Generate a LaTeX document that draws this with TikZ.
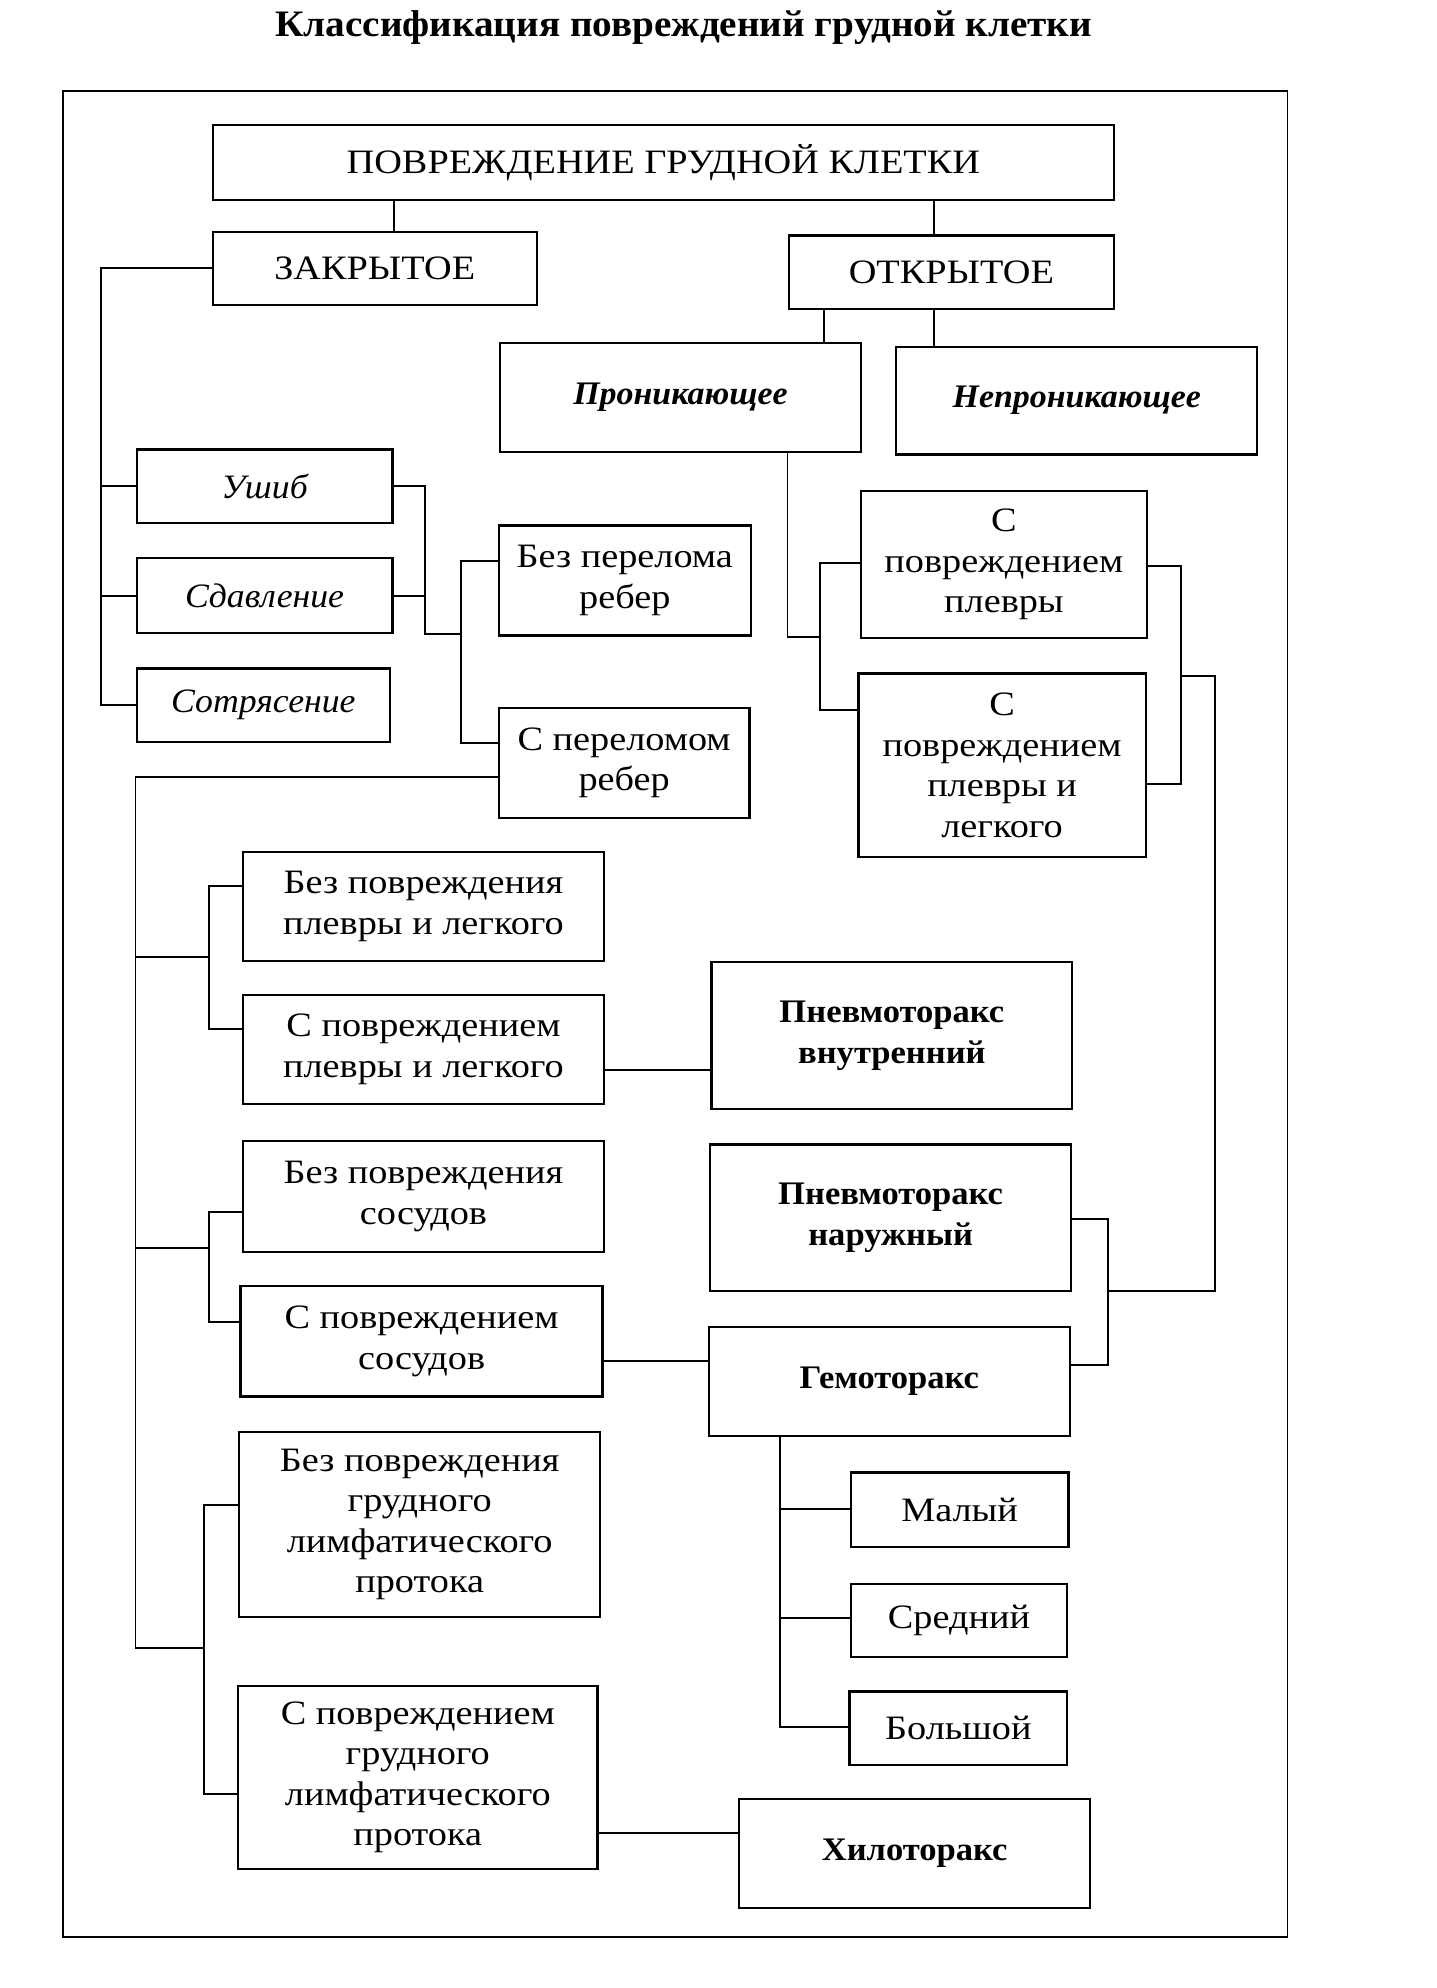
\documentclass[tikz,border=0pt]{standalone}
\usepackage{fontspec}
\setmainfont{Liberation Serif}
\newfontfamily\regf{Liberation Serif}[FakeStretch=1.12]
\newfontfamily\boldf{Liberation Serif}[FakeStretch=1.05]
\newfontfamily\itf{Liberation Serif}[FakeStretch=1.045]
\newfontfamily\bitf{Liberation Serif}[FakeStretch=1.03]
\begin{document}
\begin{tikzpicture}[x=1pt,y=-1pt,
  box/.style={draw, line width=1.8pt, align=center, inner sep=0pt,
    font=\fontsize{27}{32}\selectfont\regf},
  conn/.style={line width=1.5pt},
  bf/.style={font=\fontsize{26}{32}\selectfont\boldf\bfseries},
  itl/.style={font=\fontsize{27}{32}\selectfont\itf\itshape},
  bit/.style={font=\fontsize{26}{32}\selectfont\bitf\bfseries\itshape}]
\useasboundingbox (0,0) rectangle (1134.3,1570.3);
\node[font=\fontsize{29.5}{34}\selectfont\boldf\bfseries] (title) at (540,22) {Классификация повреждений грудной клетки};
\draw[line width=1.5pt] (50,72) rectangle (1017,1530);

\node[box, minimum width=712pt, minimum height=59pt] (top) at (524,128.5) {ПОВРЕЖДЕНИЕ ГРУДНОЙ КЛЕТКИ};
\node[box, minimum width=256pt, minimum height=58pt] (zakr) at (296,212) {ЗАКРЫТОЕ};
\node[box, minimum width=257pt, minimum height=58pt] (otkr) at (751.5,215) {ОТКРЫТОЕ};
\node[box, bit, minimum width=285pt, minimum height=86pt] (pron) at (537.5,314) {Проникающее};
\node[box, bit, minimum width=285pt, minimum height=85pt] (nepron) at (850.5,316.5) {Непроникающее};
\node[box, itl, minimum width=202pt, minimum height=58pt] (ushib) at (209,384) {Ушиб};
\node[box, itl, minimum width=202pt, minimum height=59pt] (sdav) at (209,470.5) {Сдавление};
\node[box, itl, minimum width=200pt, minimum height=58pt] (sotr) at (208,557) {Сотрясение};
\node[box, minimum width=199pt, minimum height=87pt] (bezper) at (493.5,458.5) {Без перелома\\ребер};
\node[box, minimum width=198pt, minimum height=87pt] (sper) at (493,602.5) {С переломом\\ребер};
\node[box, minimum width=226pt, minimum height=116pt] (splev) at (793,446) {С\\повреждением\\плевры};
\node[box, minimum width=227pt, minimum height=145pt] (splevleg) at (791.5,604.5) {С\\повреждением\\плевры и\\легкого};
\node[box, minimum width=285pt, minimum height=86pt] (bpl) at (334.5,716) {Без повреждения\\плевры и легкого};
\node[box, minimum width=285pt, minimum height=86pt] (spl) at (334.5,829) {С повреждением\\плевры и легкого};
\node[box, bf, minimum width=285pt, minimum height=116pt] (pnvn) at (704.5,818) {Пневмоторакс\\внутренний};
\node[box, minimum width=285pt, minimum height=88pt] (bsos) at (334.5,945) {Без повреждения\\сосудов};
\node[box, minimum width=286pt, minimum height=87pt] (ssos) at (333,1059.5) {С повреждением\\сосудов};
\node[box, bf, minimum width=285pt, minimum height=116pt] (pnnar) at (703.5,962) {Пневмоторакс\\наружный};
\node[box, bf, minimum width=285pt, minimum height=86pt] (gem) at (702.5,1091) {Гемоторакс};
\node[box, minimum width=172pt, minimum height=59pt] (malyi) at (758,1192.5) {Малый};
\node[box, minimum width=171pt, minimum height=58pt] (sred) at (757.5,1280) {Средний};
\node[box, minimum width=172pt, minimum height=58pt] (bol) at (757,1365) {Большой};
\node[box, minimum width=285pt, minimum height=146pt] (blimf) at (331.5,1204) {Без повреждения\\грудного\\лимфатического\\протока};
\node[box, minimum width=284pt, minimum height=144pt] (slimf) at (330,1404) {С повреждением\\грудного\\лимфатического\\протока};
\node[box, bf, minimum width=277pt, minimum height=86pt] (hilo) at (722.5,1464) {Хилоторакс};

\coordinate (jA) at (336,501);
\coordinate (jB) at (364,501);
\coordinate (jC) at (622,503);
\coordinate (jD) at (648,503);
\coordinate (jE) at (933,534);
\coordinate (jF) at (960,534);
\coordinate (jG) at (875,1020);
\coordinate (t1) at (107,756);
\coordinate (t2) at (107,986);
\coordinate (t3) at (107,1302);
\coordinate (b1) at (165,756);
\coordinate (b2) at (165,986);
\coordinate (b3) at (161,1302);
\coordinate (g1) at (616,1192);
\coordinate (g2) at (616,1278);

\begin{scope}[conn]
\draw (top.south -| 311,0) -- (zakr.north -| 311,0);
\draw (top.south -| 738,0) -- (otkr.north -| 738,0);
\draw (zakr.west) -| (sotr.west -| 80,0) -- (sotr.west);
\draw (ushib.west -| 80,0) -- (ushib.west);
\draw (sdav.west -| 80,0) -- (sdav.west);
\draw (ushib.east) -| (jA) -- (jB);
\draw (sdav.east) -- (sdav.east -| jA);
\draw (bezper.west |- 0,443) -| (364,587) -- (sper.west |- 0,587);
\draw (sper.west |- 0,614) -| (t3) -- (b3);
\draw (t1) -- (b1);
\draw (t2) -- (b2);
\draw (bpl.west |- 0,700) -| (165,813) -- (spl.west |- 0,813);
\draw (bsos.west |- 0,957) -| (165,1044) -- (ssos.west |- 0,1044);
\draw (blimf.west |- 0,1189) -| (161,1417) -- (slimf.west |- 0,1417);
\draw (spl.east |- 0,845) -- (pnvn.west |- 0,845);
\draw (ssos.east |- 0,1075) -- (gem.west |- 0,1075);
\draw (slimf.east |- 0,1448) -- (hilo.west |- 0,1448);
\draw (otkr.south -| 651,0) -- (pron.north -| 651,0);
\draw (otkr.south -| 738,0) -- (nepron.north -| 738,0);
\draw (pron.south -| jC) -- (jC) -- (jD);
\draw (splev.west |- 0,445) -| (648,561) -- (splevleg.west |- 0,561);
\draw (splev.east |- 0,447) -| (933,619) -- (splevleg.east |- 0,619);
\draw (jE) -- (jF) |- (jG);
\draw (pnnar.east |- 0,963) -| (875,1078) -- (gem.east |- 0,1078);
\draw (gem.south -| g1) |- (bol.west |- 0,1364);
\draw (g1) -- (malyi.west |- g1);
\draw (g2) -- (sred.west |- g2);
\end{scope}
\end{tikzpicture}
\end{document}
